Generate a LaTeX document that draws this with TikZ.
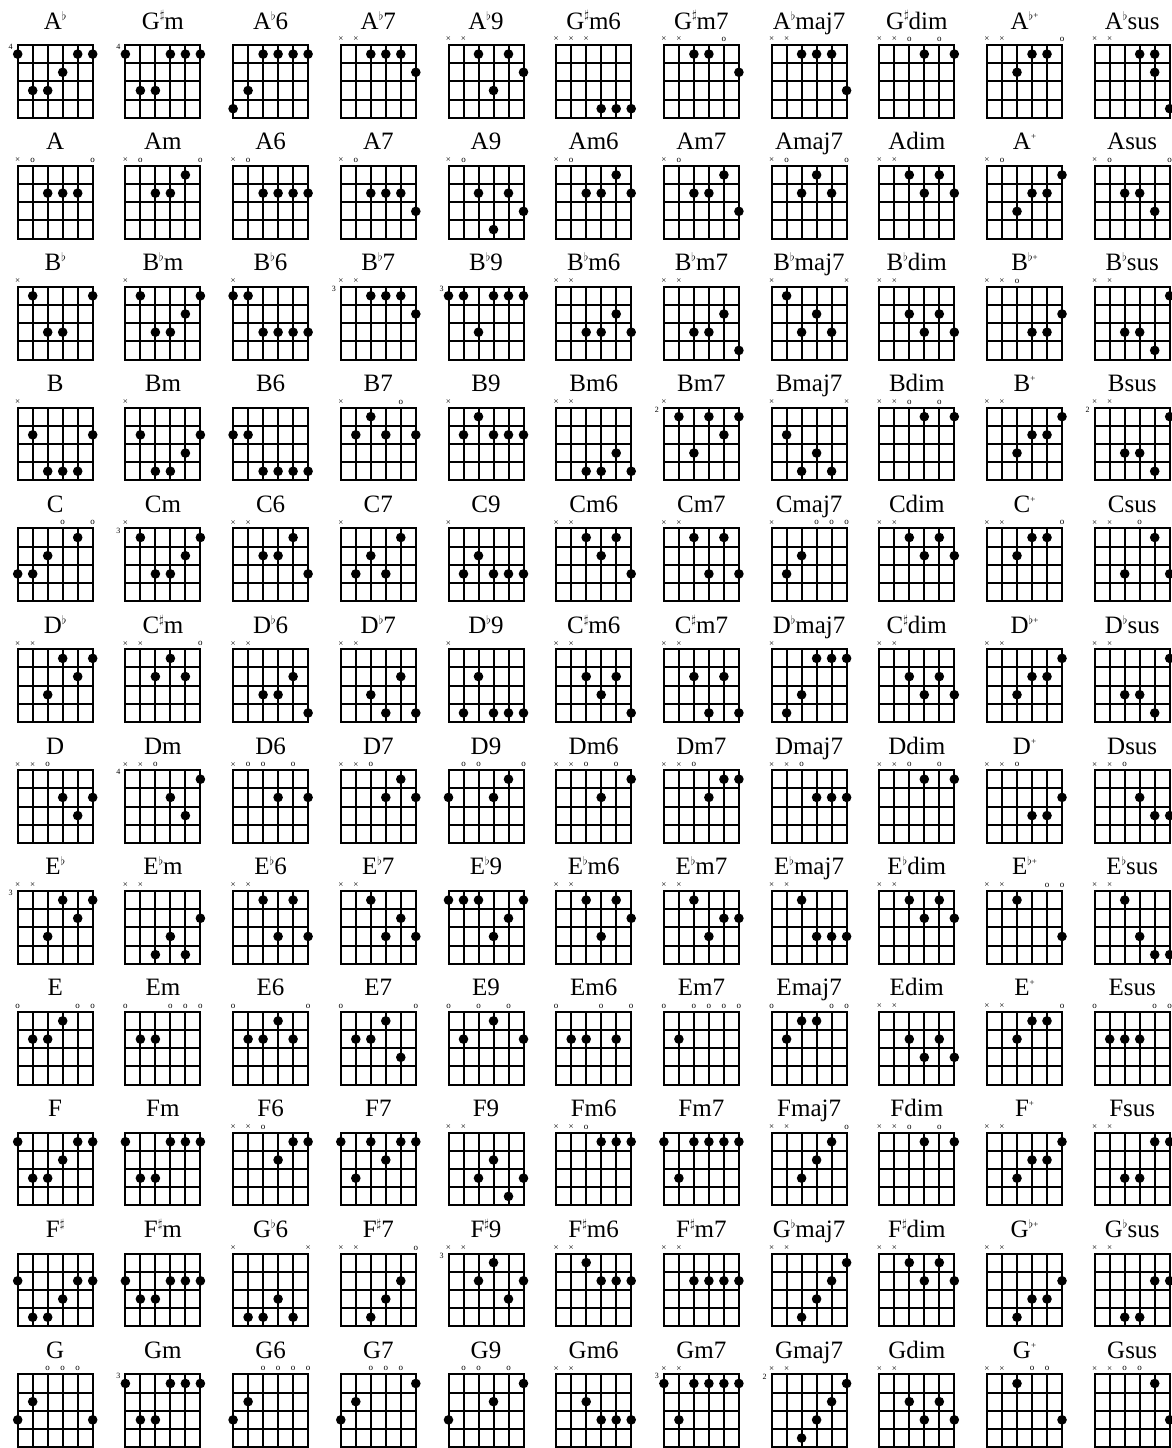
\documentclass[tikz,border=0pt]{standalone}
\usepackage{fontspec}
\setmainfont{Liberation Serif}
\usepackage{tikz}

% accidentals and marks in the chord names
\newcommand{\fl}{\raisebox{9pt}{\fontsize{12}{12}\selectfont$\flat$}}
\newcommand{\sh}{\raisebox{10pt}{\fontsize{12}{12}\selectfont$\sharp$}}
\newcommand{\au}{\raisebox{10pt}{\fontsize{9}{9}\selectfont +}}
\newcommand{\xx}{×}
\newcommand{\oo}{o}

\tikzset{
  gridline/.style={black, line width=2pt},
  chordname/.style={font=\fontsize{25}{25}\selectfont, inner sep=0pt, anchor=base},
  stringmark/.style={font=\fontsize{9}{9}\selectfont, inner sep=0pt},
  fretnum/.style={font=\fontsize{8}{8}\selectfont, inner sep=0pt},
}

% one chord box: column, row, name, fret, marks, dots
\newcommand{\chordbox}[6]{%
  \begin{scope}[shift={({\cx+\cw*#1},{\ry+\rh*#2})}]
    \draw[gridline] (0,0) rectangle (\gw,\gh);
    \foreach \s in {1,...,4} \draw[gridline] ({\s*\sw},0) -- ({\s*\sw},\gh);
    \foreach \f in {1,2,3} \draw[gridline] (0,{\f*\fh}) -- (\gw,{\f*\fh});
    \node[chordname] (name-#1-#2) at ({\gw/2},-16) {#3};
    \node[fretnum] (fret-#1-#2) at (-7,2) {#4};
    \foreach \s/\m in {#5}
      \node[stringmark] (mark-#1-#2-\s) at ({(\s-1)*\sw},-5.5) {\m};
    \foreach \s/\f in {#6}
      \fill ({(\s-1)*\sw},{(\f-0.5)*\fh}) circle[radius=4.8];
  \end{scope}}

\begin{document}
\begin{tikzpicture}[x=1pt, y=-1pt]
  \def\cx{17.7}
  \def\cw{107.7}
  \def\ry{45}
  \def\rh{120.85}
  \def\sw{15}
  \def\fh{18.2}
  \def\gw{75}
  \def\gh{72.8}

  \fill[white] (0,0) rectangle (1171,1448);
  \useasboundingbox (0,0) rectangle (1171,1448);

  % A flat
  \chordbox{0}{0}{A\fl}{4}{}{1/1,5/1,6/1,4/2,2/3,3/3}
  \chordbox{1}{0}{G\sh m}{4}{}{1/1,4/1,5/1,6/1,2/3,3/3}
  \chordbox{2}{0}{A\fl 6}{}{}{3/1,4/1,5/1,6/1,2/3,1/4}
  \chordbox{3}{0}{A\fl 7}{}{1/\xx,2/\xx}{3/1,4/1,5/1,6/2}
  \chordbox{4}{0}{A\fl 9}{}{1/\xx,2/\xx}{3/1,5/1,6/2,4/3}
  \chordbox{5}{0}{G\sh m6}{}{1/\xx,2/\xx,3/\xx}{4/4,5/4,6/4}
  \chordbox{6}{0}{G\sh m7}{}{1/\xx,2/\xx,5/\oo}{3/1,4/1,6/2}
  \chordbox{7}{0}{A\fl maj7}{}{1/\xx,2/\xx}{3/1,4/1,5/1,6/3}
  \chordbox{8}{0}{G\sh dim}{}{1/\xx,2/\xx,3/\oo,5/\oo}{4/1,6/1}
  \chordbox{9}{0}{A\fl\au}{}{1/\xx,2/\xx,6/\oo}{4/1,5/1,3/2}
  \chordbox{10}{0}{A\fl sus}{}{1/\xx,2/\xx}{4/1,5/1,5/2,6/4}

  % A
  \chordbox{0}{1}{A}{}{1/\xx,2/\oo,6/\oo}{3/2,4/2,5/2}
  \chordbox{1}{1}{Am}{}{1/\xx,2/\oo,6/\oo}{5/1,3/2,4/2}
  \chordbox{2}{1}{A6}{}{1/\xx,2/\oo}{3/2,4/2,5/2,6/2}
  \chordbox{3}{1}{A7}{}{1/\xx,2/\oo}{3/2,4/2,5/2,6/3}
  \chordbox{4}{1}{A9}{}{1/\xx,2/\oo}{3/2,5/2,6/3,4/4}
  \chordbox{5}{1}{Am6}{}{1/\xx,2/\oo}{5/1,3/2,4/2,6/2}
  \chordbox{6}{1}{Am7}{}{1/\xx,2/\oo}{5/1,3/2,4/2,6/3}
  \chordbox{7}{1}{Amaj7}{}{1/\xx,2/\oo,6/\oo}{4/1,3/2,5/2}
  \chordbox{8}{1}{Adim}{}{1/\xx,2/\xx}{3/1,5/1,4/2,6/2}
  \chordbox{9}{1}{A\au}{}{1/\xx,2/\oo}{6/1,4/2,5/2,3/3}
  \chordbox{10}{1}{Asus}{}{1/\xx,2/\oo,6/\oo}{3/2,4/2,5/3}

  % B flat
  \chordbox{0}{2}{B\fl}{}{1/\xx}{2/1,6/1,3/3,4/3}
  \chordbox{1}{2}{B\fl m}{}{1/\xx}{2/1,6/1,5/2,3/3,4/3}
  \chordbox{2}{2}{B\fl 6}{}{1/\xx}{1/1,2/1,3/3,4/3,5/3,6/3}
  \chordbox{3}{2}{B\fl 7}{3}{1/\xx,2/\xx}{3/1,4/1,5/1,6/2}
  \chordbox{4}{2}{B\fl 9}{3}{}{1/1,2/1,4/1,5/1,6/1,3/3}
  \chordbox{5}{2}{B\fl m6}{}{1/\xx,2/\xx}{5/2,3/3,4/3,6/3}
  \chordbox{6}{2}{B\fl m7}{}{1/\xx,2/\xx}{5/2,3/3,4/3,6/4}
  \chordbox{7}{2}{B\fl maj7}{}{1/\xx,6/\xx}{2/1,4/2,3/3,5/3}
  \chordbox{8}{2}{B\fl dim}{}{1/\xx,2/\xx}{3/2,5/2,4/3,6/3}
  \chordbox{9}{2}{B\fl\au}{}{1/\xx,2/\xx,3/\oo}{6/2,4/3,5/3}
  \chordbox{10}{2}{B\fl sus}{}{1/\xx,2/\xx}{6/1,3/3,4/3,5/4}

  % B
  \chordbox{0}{3}{B}{}{1/\xx}{2/2,6/2,3/4,4/4,5/4}
  \chordbox{1}{3}{Bm}{}{1/\xx}{2/2,6/2,5/3,3/4,4/4}
  \chordbox{2}{3}{B6}{}{}{1/2,2/2,3/4,4/4,5/4,6/4}
  \chordbox{3}{3}{B7}{}{1/\xx,5/\oo}{3/1,2/2,4/2,6/2}
  \chordbox{4}{3}{B9}{}{1/\xx}{3/1,2/2,4/2,5/2,6/2}
  \chordbox{5}{3}{Bm6}{}{1/\xx,2/\xx}{5/3,3/4,4/4,6/4}
  \chordbox{6}{3}{Bm7}{2}{1/\xx}{2/1,4/1,6/1,5/2,3/3}
  \chordbox{7}{3}{Bmaj7}{}{1/\xx,6/\xx}{2/2,4/3,3/4,5/4}
  \chordbox{8}{3}{Bdim}{}{1/\xx,2/\xx,3/\oo,5/\oo}{4/1,6/1}
  \chordbox{9}{3}{B\au}{}{1/\xx,2/\xx}{6/1,4/2,5/2,3/3}
  \chordbox{10}{3}{Bsus}{2}{1/\xx,2/\xx}{6/1,3/3,4/3,5/4}

  % C
  \chordbox{0}{4}{C}{}{4/\oo,6/\oo}{5/1,3/2,1/3,2/3}
  \chordbox{1}{4}{Cm}{3}{1/\xx}{2/1,6/1,5/2,3/3,4/3}
  \chordbox{2}{4}{C6}{}{1/\xx,2/\xx}{5/1,3/2,4/2,6/3}
  \chordbox{3}{4}{C7}{}{1/\xx}{5/1,3/2,2/3,4/3}
  \chordbox{4}{4}{C9}{}{1/\xx}{3/2,2/3,4/3,5/3,6/3}
  \chordbox{5}{4}{Cm6}{}{1/\xx,2/\xx}{3/1,5/1,4/2,6/3}
  \chordbox{6}{4}{Cm7}{}{1/\xx,2/\xx}{3/1,5/1,4/3,6/3}
  \chordbox{7}{4}{Cmaj7}{}{1/\xx,4/\oo,5/\oo,6/\oo}{3/2,2/3}
  \chordbox{8}{4}{Cdim}{}{1/\xx,2/\xx}{3/1,5/1,4/2,6/2}
  \chordbox{9}{4}{C\au}{}{1/\xx,2/\xx,6/\oo}{4/1,5/1,3/2}
  \chordbox{10}{4}{Csus}{}{1/\xx,2/\xx,4/\oo}{5/1,3/3,6/3}

  % D flat
  \chordbox{0}{5}{D\fl}{}{1/\xx,2/\xx}{4/1,6/1,5/2,3/3}
  \chordbox{1}{5}{C\sh m}{}{1/\xx,2/\xx,6/\oo}{4/1,3/2,5/2}
  \chordbox{2}{5}{D\fl 6}{}{1/\xx,2/\xx}{5/2,3/3,4/3,6/4}
  \chordbox{3}{5}{D\fl 7}{}{1/\xx,2/\xx}{5/2,3/3,4/4,6/4}
  \chordbox{4}{5}{D\fl 9}{}{1/\xx}{3/2,2/4,4/4,5/4,6/4}
  \chordbox{5}{5}{C\sh m6}{}{1/\xx,2/\xx}{3/2,5/2,4/3,6/4}
  \chordbox{6}{5}{C\sh m7}{}{1/\xx,2/\xx}{3/2,5/2,4/4,6/4}
  \chordbox{7}{5}{D\fl maj7}{}{1/\xx}{4/1,5/1,6/1,3/3,2/4}
  \chordbox{8}{5}{C\sh dim}{}{1/\xx,2/\xx}{3/2,5/2,4/3,6/3}
  \chordbox{9}{5}{D\fl\au}{}{1/\xx,2/\xx}{6/1,4/2,5/2,3/3}
  \chordbox{10}{5}{D\fl sus}{}{1/\xx,2/\xx}{6/1,3/3,4/3,5/4}

  % D
  \chordbox{0}{6}{D}{}{1/\xx,2/\xx,3/\oo}{4/2,6/2,5/3}
  \chordbox{1}{6}{Dm}{4}{1/\xx,2/\xx,3/\oo}{6/1,4/2,5/3}
  \chordbox{2}{6}{D6}{}{1/\xx,2/\oo,3/\oo,5/\oo}{4/2,6/2}
  \chordbox{3}{6}{D7}{}{1/\xx,2/\xx,3/\oo}{5/1,4/2,6/2}
  \chordbox{4}{6}{D9}{}{2/\oo,3/\oo,6/\oo}{5/1,1/2,4/2}
  \chordbox{5}{6}{Dm6}{}{1/\xx,2/\xx,3/\oo,5/\oo}{6/1,4/2}
  \chordbox{6}{6}{Dm7}{}{1/\xx,2/\xx,3/\oo}{5/1,6/1,4/2}
  \chordbox{7}{6}{Dmaj7}{}{1/\xx,2/\xx,3/\oo}{4/2,5/2,6/2}
  \chordbox{8}{6}{Ddim}{}{1/\xx,2/\xx,3/\oo,5/\oo}{4/1,6/1}
  \chordbox{9}{6}{D\au}{}{1/\xx,2/\xx,3/\oo}{6/2,4/3,5/3}
  \chordbox{10}{6}{Dsus}{}{1/\xx,2/\xx,3/\oo}{4/2,5/3,6/3}

  % E flat
  \chordbox{0}{7}{E\fl}{3}{1/\xx,2/\xx}{4/1,6/1,5/2,3/3}
  \chordbox{1}{7}{E\fl m}{}{1/\xx,2/\xx}{6/2,4/3,3/4,5/4}
  \chordbox{2}{7}{E\fl 6}{}{1/\xx,2/\xx}{3/1,5/1,4/3,6/3}
  \chordbox{3}{7}{E\fl 7}{}{1/\xx,2/\xx}{3/1,5/2,4/3,6/3}
  \chordbox{4}{7}{E\fl 9}{}{}{1/1,2/1,3/1,6/1,5/2,4/3}
  \chordbox{5}{7}{E\fl m6}{}{1/\xx,2/\xx}{3/1,5/1,6/2,4/3}
  \chordbox{6}{7}{E\fl m7}{}{1/\xx,2/\xx}{3/1,5/2,6/2,4/3}
  \chordbox{7}{7}{E\fl maj7}{}{1/\xx,2/\xx}{3/1,4/3,5/3,6/3}
  \chordbox{8}{7}{E\fl dim}{}{1/\xx,2/\xx}{3/1,5/1,4/2,6/2}
  \chordbox{9}{7}{E\fl\au}{}{1/\xx,2/\xx,5/\oo,6/\oo}{3/1,6/3}
  \chordbox{10}{7}{E\fl sus}{}{1/\xx,2/\xx}{3/1,4/3,5/4,6/4}

  % E
  \chordbox{0}{8}{E}{}{1/\oo,5/\oo,6/\oo}{4/1,2/2,3/2}
  \chordbox{1}{8}{Em}{}{1/\oo,4/\oo,5/\oo,6/\oo}{2/2,3/2}
  \chordbox{2}{8}{E6}{}{1/\oo,6/\oo}{4/1,2/2,3/2,5/2}
  \chordbox{3}{8}{E7}{}{1/\oo,6/\oo}{4/1,2/2,3/2,5/3}
  \chordbox{4}{8}{E9}{}{1/\oo,3/\oo,5/\oo}{4/1,2/2,6/2}
  \chordbox{5}{8}{Em6}{}{1/\oo,4/\oo,6/\oo}{2/2,3/2,5/2}
  \chordbox{6}{8}{Em7}{}{1/\oo,3/\oo,4/\oo,5/\oo,6/\oo}{2/2}
  \chordbox{7}{8}{Emaj7}{}{1/\oo,5/\oo,6/\oo}{3/1,4/1,2/2}
  \chordbox{8}{8}{Edim}{}{1/\xx,2/\xx}{3/2,5/2,4/3,6/3}
  \chordbox{9}{8}{E\au}{}{1/\xx,2/\xx,6/\oo}{4/1,5/1,3/2}
  \chordbox{10}{8}{Esus}{}{1/\oo,5/\oo,6/\oo}{2/2,3/2,4/2}

  % F
  \chordbox{0}{9}{F}{}{}{1/1,5/1,6/1,4/2,2/3,3/3}
  \chordbox{1}{9}{Fm}{}{}{1/1,4/1,5/1,6/1,2/3,3/3}
  \chordbox{2}{9}{F6}{}{1/\xx,2/\xx,3/\oo}{5/1,6/1,4/2}
  \chordbox{3}{9}{F7}{}{}{1/1,3/1,5/1,6/1,4/2,2/3}
  \chordbox{4}{9}{F9}{}{1/\xx,2/\xx}{4/2,3/3,6/3,5/4}
  \chordbox{5}{9}{Fm6}{}{1/\xx,2/\xx,3/\oo}{4/1,5/1,6/1}
  \chordbox{6}{9}{Fm7}{}{}{1/1,3/1,4/1,5/1,6/1,2/3}
  \chordbox{7}{9}{Fmaj7}{}{1/\xx,2/\xx,6/\oo}{5/1,4/2,3/3}
  \chordbox{8}{9}{Fdim}{}{1/\xx,2/\xx,3/\oo,5/\oo}{4/1,6/1}
  \chordbox{9}{9}{F\au}{}{1/\xx,2/\xx}{6/1,4/2,5/2,3/3}
  \chordbox{10}{9}{Fsus}{}{1/\xx,2/\xx}{5/1,6/1,3/3,4/3}

  % F sharp
  \chordbox{0}{10}{F\sh}{}{}{1/2,5/2,6/2,4/3,2/4,3/4}
  \chordbox{1}{10}{F\sh m}{}{}{1/2,4/2,5/2,6/2,2/3,3/3}
  \chordbox{2}{10}{G\fl 6}{}{1/\xx,6/\xx}{4/3,2/4,3/4,5/4}
  \chordbox{3}{10}{F\sh 7}{}{1/\xx,2/\xx,6/\oo}{5/2,4/3,3/4}
  \chordbox{4}{10}{F\sh 9}{3}{1/\xx,2/\xx}{4/1,3/2,6/2,5/3}
  \chordbox{5}{10}{F\sh m6}{}{1/\xx,2/\xx}{3/1,4/2,5/2,6/2}
  \chordbox{6}{10}{F\sh m7}{}{1/\xx,2/\xx}{3/2,4/2,5/2,6/2}
  \chordbox{7}{10}{G\fl maj7}{}{1/\xx,2/\xx}{6/1,5/2,4/3,3/4}
  \chordbox{8}{10}{F\sh dim}{}{1/\xx,2/\xx}{3/1,5/1,4/2,6/2}
  \chordbox{9}{10}{G\fl\au}{}{1/\xx,2/\xx}{6/2,4/3,5/3,3/4}
  \chordbox{10}{10}{G\fl sus}{}{1/\xx,2/\xx}{5/2,6/2,3/4,4/4}

  % G
  \chordbox{0}{11}{G}{}{3/\oo,4/\oo,5/\oo}{2/2,1/3,6/3}
  \chordbox{1}{11}{Gm}{3}{}{1/1,4/1,5/1,6/1,2/3,3/3}
  \chordbox{2}{11}{G6}{}{3/\oo,4/\oo,5/\oo,6/\oo}{2/2,1/3}
  \chordbox{3}{11}{G7}{}{3/\oo,4/\oo,5/\oo}{6/1,2/2,1/3}
  \chordbox{4}{11}{G9}{}{2/\oo,3/\oo,5/\oo}{6/1,4/2,1/3}
  \chordbox{5}{11}{Gm6}{}{1/\xx,2/\xx}{3/2,4/3,5/3,6/3}
  \chordbox{6}{11}{Gm7}{3}{1/\xx,2/\xx}{1/1,3/1,4/1,5/1,6/1,2/3}
  \chordbox{7}{11}{Gmaj7}{2}{1/\xx,2/\xx}{6/1,5/2,4/3,3/4}
  \chordbox{8}{11}{Gdim}{}{1/\xx,2/\xx}{3/2,5/2,4/3,6/3}
  \chordbox{9}{11}{G\au}{}{1/\xx,2/\xx,4/\oo,5/\oo}{3/1,6/3}
  \chordbox{10}{11}{Gsus}{}{1/\xx,2/\xx,3/\oo,4/\oo}{5/1,6/3}
\end{tikzpicture}
\end{document}
